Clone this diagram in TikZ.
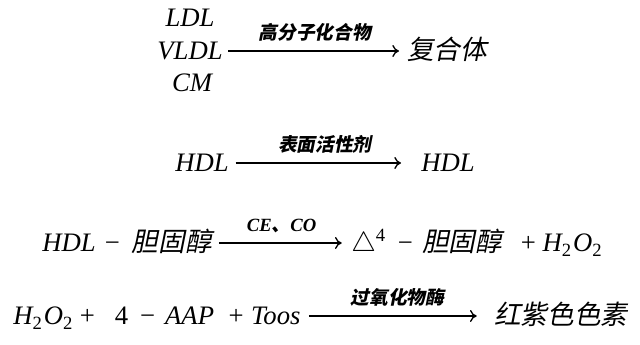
\documentclass[tikz,border=0pt]{standalone}
\usepackage{fontspec}
\setmainfont{Liberation Serif}
\newfontfamily\zh[FakeSlant=0.2]{Noto Sans CJK SC}
\newcommand\sub[1]{\textsubscript{\upshape#1}}
\newcommand\op[3]{\hspace{#1pt}{\upshape#2}\hspace{#3pt}}
\usetikzlibrary{arrows.meta}
\tikzset{every node/.style={inner sep=0pt, font=\fontsize{20}{22}\selectfont\itshape},
  chem/.style={anchor=base west, text height=14pt, text depth=0.5pt},
  rxn/.style={-{To[length=5pt,width=9pt]}, line width=1pt},
  cond/.style={midway, above=7pt, inner sep=0pt, font=\fontsize{14}{16}\selectfont\zh\bfseries}}

\begin{document}
\begin{tikzpicture}[x=0.75pt,y=-0.75pt]
   \useasboundingbox (0,0) rectangle (640,345);
   \node[chem,anchor=base] (ldl)  at (190,27) {LDL};
   \node[chem,anchor=base] (vldl) at (190,60) {VLDL};
   \node[chem,anchor=base] (cm)   at (192,92) {CM};
   \node[chem] (cplx) at (407,60) {\zh 复合体};
   \draw[rxn,shorten <=4pt,shorten >=6pt] (vldl) -- node[cond] {高分子化合物} (cplx);

   \node[chem] (hdla) at (175,172) {HDL};
   \node[chem] (hdlb) at (421,172) {HDL};
   \draw[rxn,shorten <=5pt,shorten >=15pt] (hdla) -- node[cond] {表面活性剂} (hdlb);

   \node[chem] (chol) at (42,252) {HDL\op{7}{−}{9}\zh 胆固醇};
   \node[chem] (prod) at (351,252) {$\triangle$\textsuperscript{\upshape 4}\op{9}{−}{7}\zh 胆固醇\rmfamily\op{14}{+}{5}\itshape H\sub{2}\hspace{1pt}O\sub{2}};
   \draw[rxn,shorten <=5pt,shorten >=7pt] (chol) -- node[cond,font=\fontsize{14}{16}\selectfont\bfseries\itshape] {CE\zh 、\rmfamily CO} (prod);

   \node[chem] (hper) at (13,325) {H\sub{2}\hspace{1pt}O\sub{2}\op{5}{+}{15}{\upshape 4}\op{9}{−}{7.5}AAP\op{11}{+}{5.5}Toos};
   \node[chem] (dye)  at (494,325) {\zh 红紫色色素};
   \draw[rxn,shorten <=6pt,shorten >=13pt] (hper) -- node[cond] {过氧化物酶} (dye);
\end{tikzpicture}
\end{document}
